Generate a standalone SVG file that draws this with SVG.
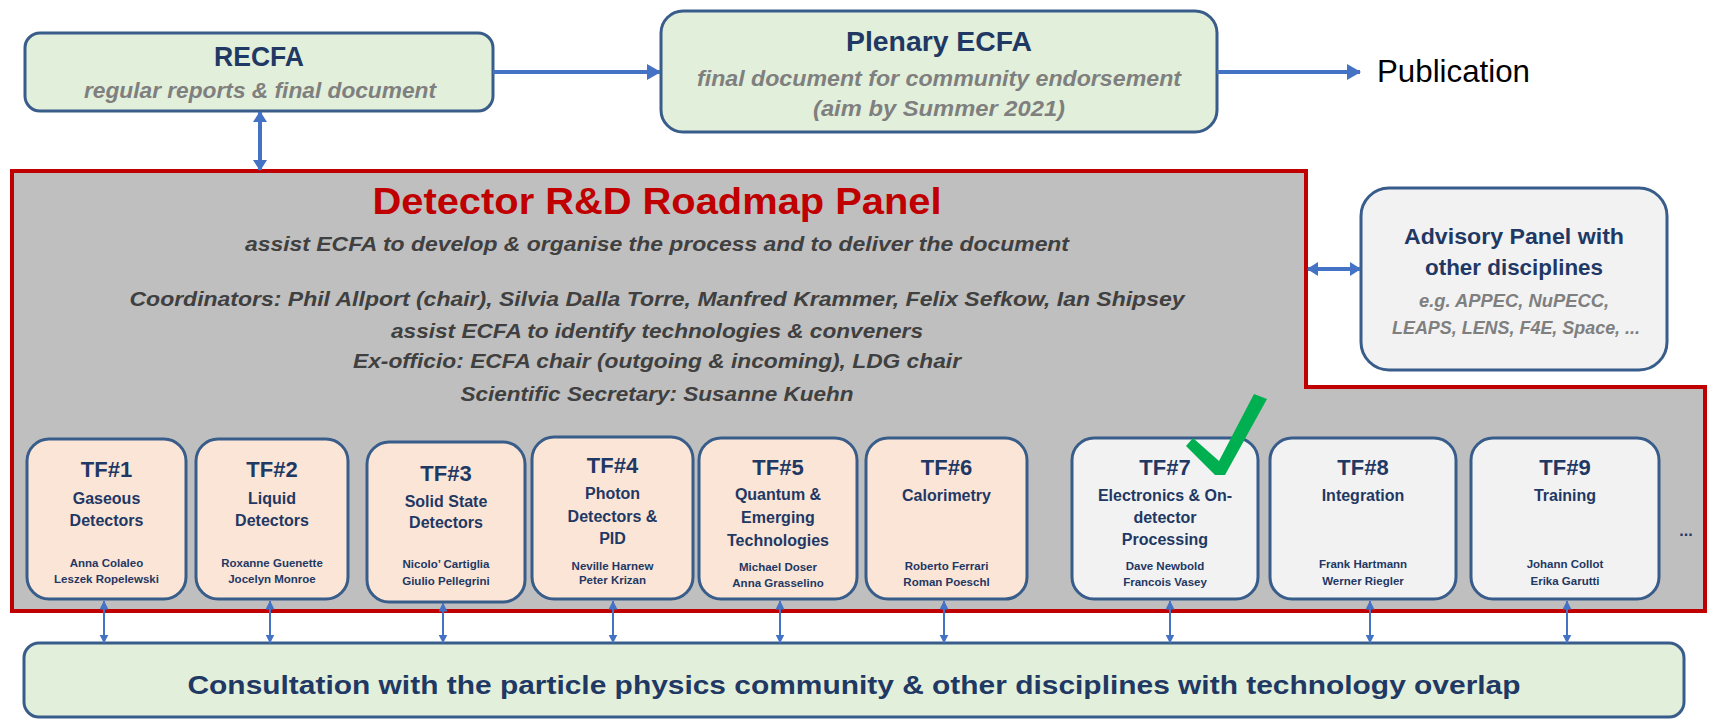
<svg xmlns="http://www.w3.org/2000/svg" width="1709" height="721" viewBox="0 0 1709 721">
<style>
text{font-family:"Liberation Sans",Arial,sans-serif}
.box{stroke:#385d8a;stroke-width:3}
.green{fill:#e2efda}
.peach{fill:#fbe5d6}
.grey{fill:#f2f2f2}
.t{font-weight:bold;fill:#1f3864;text-anchor:middle}
.sub{font-weight:bold;font-style:italic;fill:#7f7f7f;text-anchor:middle}
.pl{font-weight:bold;font-style:italic;fill:#404040;font-size:21px;text-anchor:middle}
.tf{font-size:22px}
.tl{font-size:16px}
.nm{font-size:11.5px}
.thick{stroke:#4472c4;stroke-width:4;fill:none}
.thin{stroke:#4472c4;stroke-width:2;fill:none}
</style>
<defs>
<marker id="aL" markerUnits="userSpaceOnUse" viewBox="0 0 14 16" refX="13" refY="8" markerWidth="14" markerHeight="16" orient="auto-start-reverse"><path d="M0,0 L14,8 L0,16 z" fill="#4472c4"/></marker>
<marker id="aM" markerUnits="userSpaceOnUse" viewBox="0 0 11 14" refX="10" refY="7" markerWidth="11" markerHeight="14" orient="auto-start-reverse"><path d="M0,0 L11,7 L0,14 z" fill="#4472c4"/></marker>
<marker id="aS" markerUnits="userSpaceOnUse" viewBox="0 0 9 9" refX="8.5" refY="4.5" markerWidth="9" markerHeight="9" orient="auto-start-reverse"><path d="M0,0 L9,4.5 L0,9 z" fill="#4472c4"/></marker>
</defs>

<g id="panel">
<path d="M12,171 H1306 V387 H1705 V611 H12 Z" fill="#bfbfbf" stroke="#c00000" stroke-width="4"/>
<text x="657" y="214" font-size="37" font-weight="bold" fill="#c00000" text-anchor="middle" textLength="569" lengthAdjust="spacingAndGlyphs">Detector R&amp;D Roadmap Panel</text>
<text class="pl" x="657" y="251" textLength="824" lengthAdjust="spacingAndGlyphs">assist ECFA to develop &amp; organise the process and to deliver the document</text>
<text class="pl" x="657" y="306" textLength="1055" lengthAdjust="spacingAndGlyphs">Coordinators: Phil Allport (chair), Silvia Dalla Torre, Manfred Krammer, Felix Sefkow, Ian Shipsey</text>
<text class="pl" x="657" y="338" textLength="532" lengthAdjust="spacingAndGlyphs">assist ECFA to identify technologies &amp; conveners</text>
<text class="pl" x="657" y="368" textLength="608" lengthAdjust="spacingAndGlyphs">Ex-officio: ECFA chair (outgoing &amp; incoming), LDG chair</text>
<text class="pl" x="657" y="401" textLength="393" lengthAdjust="spacingAndGlyphs">Scientific Secretary: Susanne Kuehn</text>
<text x="1686" y="536" font-size="16" font-weight="bold" fill="#1f3864" text-anchor="middle">...</text>
</g>

<g id="recfa">
<rect class="box green" x="25" y="33" width="468" height="78" rx="15"/>
<text class="t" x="259" y="66" font-size="28" textLength="90" lengthAdjust="spacingAndGlyphs">RECFA</text>
<text class="sub" x="260" y="98" font-size="22" textLength="352" lengthAdjust="spacingAndGlyphs">regular reports &amp; final document</text>
</g>

<g id="plenary">
<rect class="box green" x="661" y="11" width="556" height="121" rx="22"/>
<text class="t" x="939" y="51" font-size="28" textLength="186" lengthAdjust="spacingAndGlyphs">Plenary ECFA</text>
<text class="sub" x="939" y="86" font-size="22" textLength="484" lengthAdjust="spacingAndGlyphs">final document for community endorsement</text>
<text class="sub" x="939" y="116" font-size="22" textLength="252" lengthAdjust="spacingAndGlyphs">(aim by Summer 2021)</text>
</g>

<g id="publication">
<text x="1377" y="82" font-size="32" fill="#000000" textLength="153" lengthAdjust="spacingAndGlyphs">Publication</text>
</g>

<g id="advisory">
<rect class="box grey" x="1361" y="188" width="306" height="182" rx="28"/>
<text class="t" x="1514" y="244" font-size="22" textLength="220" lengthAdjust="spacingAndGlyphs">Advisory Panel with</text>
<text class="t" x="1514" y="275" font-size="22" textLength="178" lengthAdjust="spacingAndGlyphs">other disciplines</text>
<text class="sub" x="1514" y="307" font-size="19" textLength="190" lengthAdjust="spacingAndGlyphs">e.g. APPEC, NuPECC,</text>
<text class="sub" x="1516" y="334" font-size="19" textLength="248" lengthAdjust="spacingAndGlyphs">LEAPS, LENS, F4E, Space, ...</text>
</g>

<g id="tf1">
<rect class="box peach" x="27" y="439" width="159" height="160" rx="22"/>
<text class="t tf" x="106.5" y="477">TF#1</text>
<text class="t tl" x="106.5" y="504">Gaseous</text>
<text class="t tl" x="106.5" y="526">Detectors</text>
<text class="t nm" x="106.5" y="567">Anna Colaleo</text>
<text class="t nm" x="106.5" y="583">Leszek Ropelewski</text>
</g>
<g id="tf2">
<rect class="box peach" x="196" y="439" width="152" height="160" rx="22"/>
<text class="t tf" x="272" y="477">TF#2</text>
<text class="t tl" x="272" y="504">Liquid</text>
<text class="t tl" x="272" y="526">Detectors</text>
<text class="t nm" x="272" y="567">Roxanne Guenette</text>
<text class="t nm" x="272" y="583">Jocelyn Monroe</text>
</g>
<g id="tf3">
<rect class="box peach" x="367" y="442" width="158" height="160" rx="22"/>
<text class="t tf" x="446" y="481">TF#3</text>
<text class="t tl" x="446" y="507">Solid State</text>
<text class="t tl" x="446" y="528">Detectors</text>
<text class="t nm" x="446" y="568">Nicolo’ Cartiglia</text>
<text class="t nm" x="446" y="585">Giulio Pellegrini</text>
</g>
<g id="tf4">
<rect class="box peach" x="532" y="437" width="161" height="162" rx="22"/>
<text class="t tf" x="612.5" y="473">TF#4</text>
<text class="t tl" x="612.5" y="499">Photon</text>
<text class="t tl" x="612.5" y="522">Detectors &amp;</text>
<text class="t tl" x="612.5" y="544">PID</text>
<text class="t nm" x="612.5" y="570">Neville Harnew</text>
<text class="t nm" x="612.5" y="584">Peter Krizan</text>
</g>
<g id="tf5">
<rect class="box peach" x="699" y="438" width="158" height="161" rx="22"/>
<text class="t tf" x="778" y="475">TF#5</text>
<text class="t tl" x="778" y="500">Quantum &amp;</text>
<text class="t tl" x="778" y="523">Emerging</text>
<text class="t tl" x="778" y="546">Technologies</text>
<text class="t nm" x="778" y="571">Michael Doser</text>
<text class="t nm" x="778" y="587">Anna Grasselino</text>
</g>
<g id="tf6">
<rect class="box peach" x="866" y="438" width="161" height="161" rx="22"/>
<text class="t tf" x="946.5" y="475">TF#6</text>
<text class="t tl" x="946.5" y="501">Calorimetry</text>
<text class="t nm" x="946.5" y="570">Roberto Ferrari</text>
<text class="t nm" x="946.5" y="586">Roman Poeschl</text>
</g>
<g id="tf7">
<rect class="box grey" x="1072" y="438" width="186" height="161" rx="22"/>
<text class="t tf" x="1165" y="475">TF#7</text>
<text class="t tl" x="1165" y="501">Electronics &amp; On-</text>
<text class="t tl" x="1165" y="523">detector</text>
<text class="t tl" x="1165" y="545">Processing</text>
<text class="t nm" x="1165" y="570">Dave Newbold</text>
<text class="t nm" x="1165" y="586">Francois Vasey</text>
</g>
<g id="tf8">
<rect class="box grey" x="1270" y="438" width="186" height="161" rx="22"/>
<text class="t tf" x="1363" y="475">TF#8</text>
<text class="t tl" x="1363" y="501">Integration</text>
<text class="t nm" x="1363" y="568">Frank Hartmann</text>
<text class="t nm" x="1363" y="585">Werner Riegler</text>
</g>
<g id="tf9">
<rect class="box grey" x="1471" y="438" width="188" height="161" rx="22"/>
<text class="t tf" x="1565" y="475">TF#9</text>
<text class="t tl" x="1565" y="501">Training</text>
<text class="t nm" x="1565" y="568">Johann Collot</text>
<text class="t nm" x="1565" y="585">Erika Garutti</text>
</g>

<g id="check">
<path d="M1186,446 L1193,438 L1219,461 L1254,394 L1267,399 L1225,475 L1215,475 Z" fill="#00b050"/>
</g>

<g id="consultation">
<rect class="box green" x="24" y="643" width="1660" height="74" rx="15"/>
<text class="t" x="854" y="694" font-size="26" textLength="1333" lengthAdjust="spacingAndGlyphs">Consultation with the particle physics community &amp; other disciplines with technology overlap</text>
</g>

<g id="connectors">
<path class="thick" d="M493,72 H660" marker-end="url(#aL)"/>
<path class="thick" d="M1217,72 H1360" marker-end="url(#aL)"/>
<path class="thick" d="M260,112 V170" marker-start="url(#aM)" marker-end="url(#aM)"/>
<path class="thick" d="M1308,269 H1360" marker-start="url(#aM)" marker-end="url(#aM)"/>
<path class="thin" d="M104,601 V643" marker-start="url(#aS)" marker-end="url(#aS)"/>
<path class="thin" d="M270,601 V643" marker-start="url(#aS)" marker-end="url(#aS)"/>
<path class="thin" d="M443,603 V643" marker-start="url(#aS)" marker-end="url(#aS)"/>
<path class="thin" d="M613,601 V643" marker-start="url(#aS)" marker-end="url(#aS)"/>
<path class="thin" d="M780,601 V643" marker-start="url(#aS)" marker-end="url(#aS)"/>
<path class="thin" d="M944,601 V643" marker-start="url(#aS)" marker-end="url(#aS)"/>
<path class="thin" d="M1170,601 V643" marker-start="url(#aS)" marker-end="url(#aS)"/>
<path class="thin" d="M1370,601 V643" marker-start="url(#aS)" marker-end="url(#aS)"/>
<path class="thin" d="M1567,601 V643" marker-start="url(#aS)" marker-end="url(#aS)"/>
</g>
</svg>
